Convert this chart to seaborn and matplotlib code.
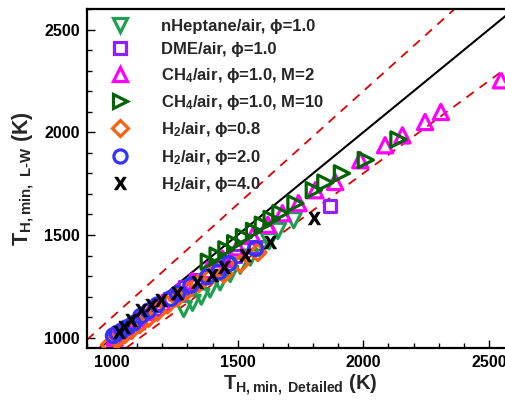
import matplotlib
matplotlib.use("Agg")
import matplotlib.pyplot as plt
import seaborn as sns
import numpy as np
import pandas as pd
from matplotlib.ticker import MultipleLocator

# ---------------- data ----------------
hep_x = [1285, 1320, 1355, 1390, 1430, 1470, 1510, 1550, 1590, 1625, 1660, 1723]
hep_y = [1140, 1170, 1200, 1235, 1270, 1310, 1350, 1390, 1430, 1470, 1520, 1572]

dme_x = [1010, 1060, 1110, 1170, 1230, 1290, 1335, 1420, 1490, 1570, 1868]
dme_y = [1000, 1045, 1090, 1140, 1190, 1245, 1280, 1345, 1400, 1440, 1640]

ch4m2_x = [1010, 1050, 1100, 1150, 1200, 1260, 1320, 1380, 1440, 1500, 1560, 1620,
           1678, 1742, 1809, 1888, 1988, 2087, 2156, 2246, 2309, 2548]
ch4m2_y = [1000, 1035, 1080, 1125, 1170, 1220, 1275, 1330, 1385, 1440, 1495, 1550,
           1606, 1655, 1718, 1758, 1864, 1937, 1985, 2050, 2099, 2253]

ch4m10_x = [1385, 1420, 1455, 1490, 1525, 1565, 1600, 1635, 1670, 1730, 1803, 1849,
            1915, 2010, 2140]
ch4m10_y = [1370, 1400, 1430, 1460, 1490, 1520, 1550, 1578, 1606, 1654, 1718, 1755,
            1800, 1865, 1965]

h08_x = [990, 1020, 1050, 1080, 1110, 1145, 1180, 1220, 1260, 1300, 1345, 1395, 1445,
         1510, 1580]
h08_y = [965, 990, 1015, 1040, 1065, 1095, 1125, 1160, 1195, 1230, 1265, 1300, 1310,
         1360, 1415]

h20_x = [1005, 1020, 1040, 1060, 1085, 1114, 1145, 1180, 1233, 1260, 1313, 1379, 1425,
         1465, 1571]
h20_y = [1010, 1022, 1035, 1050, 1070, 1105, 1130, 1160, 1191, 1215, 1255, 1296, 1320,
         1361, 1434]

h40_x = [1027, 1048, 1075, 1114, 1154, 1193, 1260, 1339, 1399, 1445, 1531, 1630, 1802]
h40_y = [1028, 1053, 1085, 1134, 1158, 1182, 1216, 1272, 1304, 1345, 1401, 1466, 1584]

labels = [
    "nHeptane/air, ϕ=1.0",
    "DME/air, ϕ=1.0",
    "CH$_4$/air, ϕ=1.0, M=2",
    "CH$_4$/air, ϕ=1.0, M=10",
    "H$_2$/air, ϕ=0.8",
    "H$_2$/air, ϕ=2.0",
    "H$_2$/air, ϕ=4.0",
]

# ---------------- style ----------------
sns.set_style("white")
plt.rcParams["font.family"] = ["Liberation Sans", "DejaVu Sans"]
plt.rcParams["font.weight"] = "bold"
plt.rcParams["mathtext.fontset"] = "custom"
plt.rcParams["mathtext.rm"] = "Liberation Sans:bold"
plt.rcParams["mathtext.it"] = "Liberation Sans:bold"
plt.rcParams["mathtext.bf"] = "Liberation Sans:bold"
plt.rcParams["mathtext.default"] = "regular"

fig = plt.figure(figsize=(5.06, 4.15), dpi=100)
ax = fig.add_axes([87 / 506, 67 / 415, (514 - 87) / 506, (406 - 67) / 415])

series = [
    (hep_x, hep_y, "v", "#1fa050", 120),
    (dme_x, dme_y, "s", "#8f1fff", 75),
    (ch4m2_x, ch4m2_y, "^", "#ff00ff", 120),
    (ch4m10_x, ch4m10_y, ">", "#006400", 120),
    (h08_x, h08_y, "D", "#ff6010", 70),
    (h20_x, h20_y, "o", "#3333ff", 100),
    (h40_x, h40_y, "$\\mathrm{X}$", "#000000", 80),
]

# reference lines
ref = np.array([900, 2700])
ax.plot(ref, ref, color="black", lw=1.5, zorder=1)
ax.plot(ref, 1.1 * ref, color="#e00000", lw=1.3, ls=(0, (5, 4)), zorder=1)
ax.plot(ref, 0.9 * ref, color="#e00000", lw=1.3, ls=(0, (5, 4)), zorder=1)

handles = []
for (xs, ys, mk, col, sz), lab in zip(series, labels):
    df = pd.DataFrame({"x": xs, "y": ys})
    if mk.startswith("$"):
        sns.scatterplot(data=df, x="x", y="y", ax=ax, marker=mk, s=sz, color=col,
                        edgecolor=col, linewidth=0.7, zorder=3)
        h = plt.Line2D([], [], ls="none", marker=mk, ms=np.sqrt(sz), color=col, mew=0.7)
    else:
        sns.scatterplot(data=df, x="x", y="y", ax=ax, marker=mk, s=sz,
                        facecolor="none", edgecolor=col, linewidth=2.3, zorder=3)
        h = plt.Line2D([], [], ls="none", marker=mk, ms=np.sqrt(sz) * 0.95, mfc="none",
                       mec=col, mew=2.3)
    handles.append(h)

ax.set_xlim(900, 2600)
ax.set_ylim(950, 2600)
ax.xaxis.set_major_locator(MultipleLocator(500))
ax.xaxis.set_minor_locator(MultipleLocator(100))
ax.yaxis.set_major_locator(MultipleLocator(500))
ax.yaxis.set_minor_locator(MultipleLocator(100))
ax.tick_params(which="both", direction="in", top=False, right=False,
               bottom=True, left=True, width=1.0, colors="black")
ax.tick_params(which="major", length=6, labelsize=11.5, pad=5)
ax.tick_params(which="minor", length=3.5)
for lab in ax.get_xticklabels() + ax.get_yticklabels():
    lab.set_fontweight("bold")
for sp in ["left", "bottom", "top"]:
    ax.spines[sp].set_linewidth(1.6)
    ax.spines[sp].set_color("black")
ax.spines["right"].set_visible(False)

ax.set_xlabel("T$_{\\mathrm{H,min,\\ Detailed}}$ (K)", fontsize=14.5, fontweight="bold",
              labelpad=2)
ax.set_ylabel("T$_{\\mathrm{H,min,\\ L‐W}}$ (K)", fontsize=15.5, fontweight="bold",
              labelpad=6)

leg = ax.legend(handles, labels, loc="upper left", frameon=False,
                prop={"weight": "bold", "size": 12}, handletextpad=1.9,
                labelspacing=0.5, borderaxespad=0.2, handlelength=1.2,
                bbox_to_anchor=(0.03, 1.0))

fig.savefig("out.png", dpi=100)
